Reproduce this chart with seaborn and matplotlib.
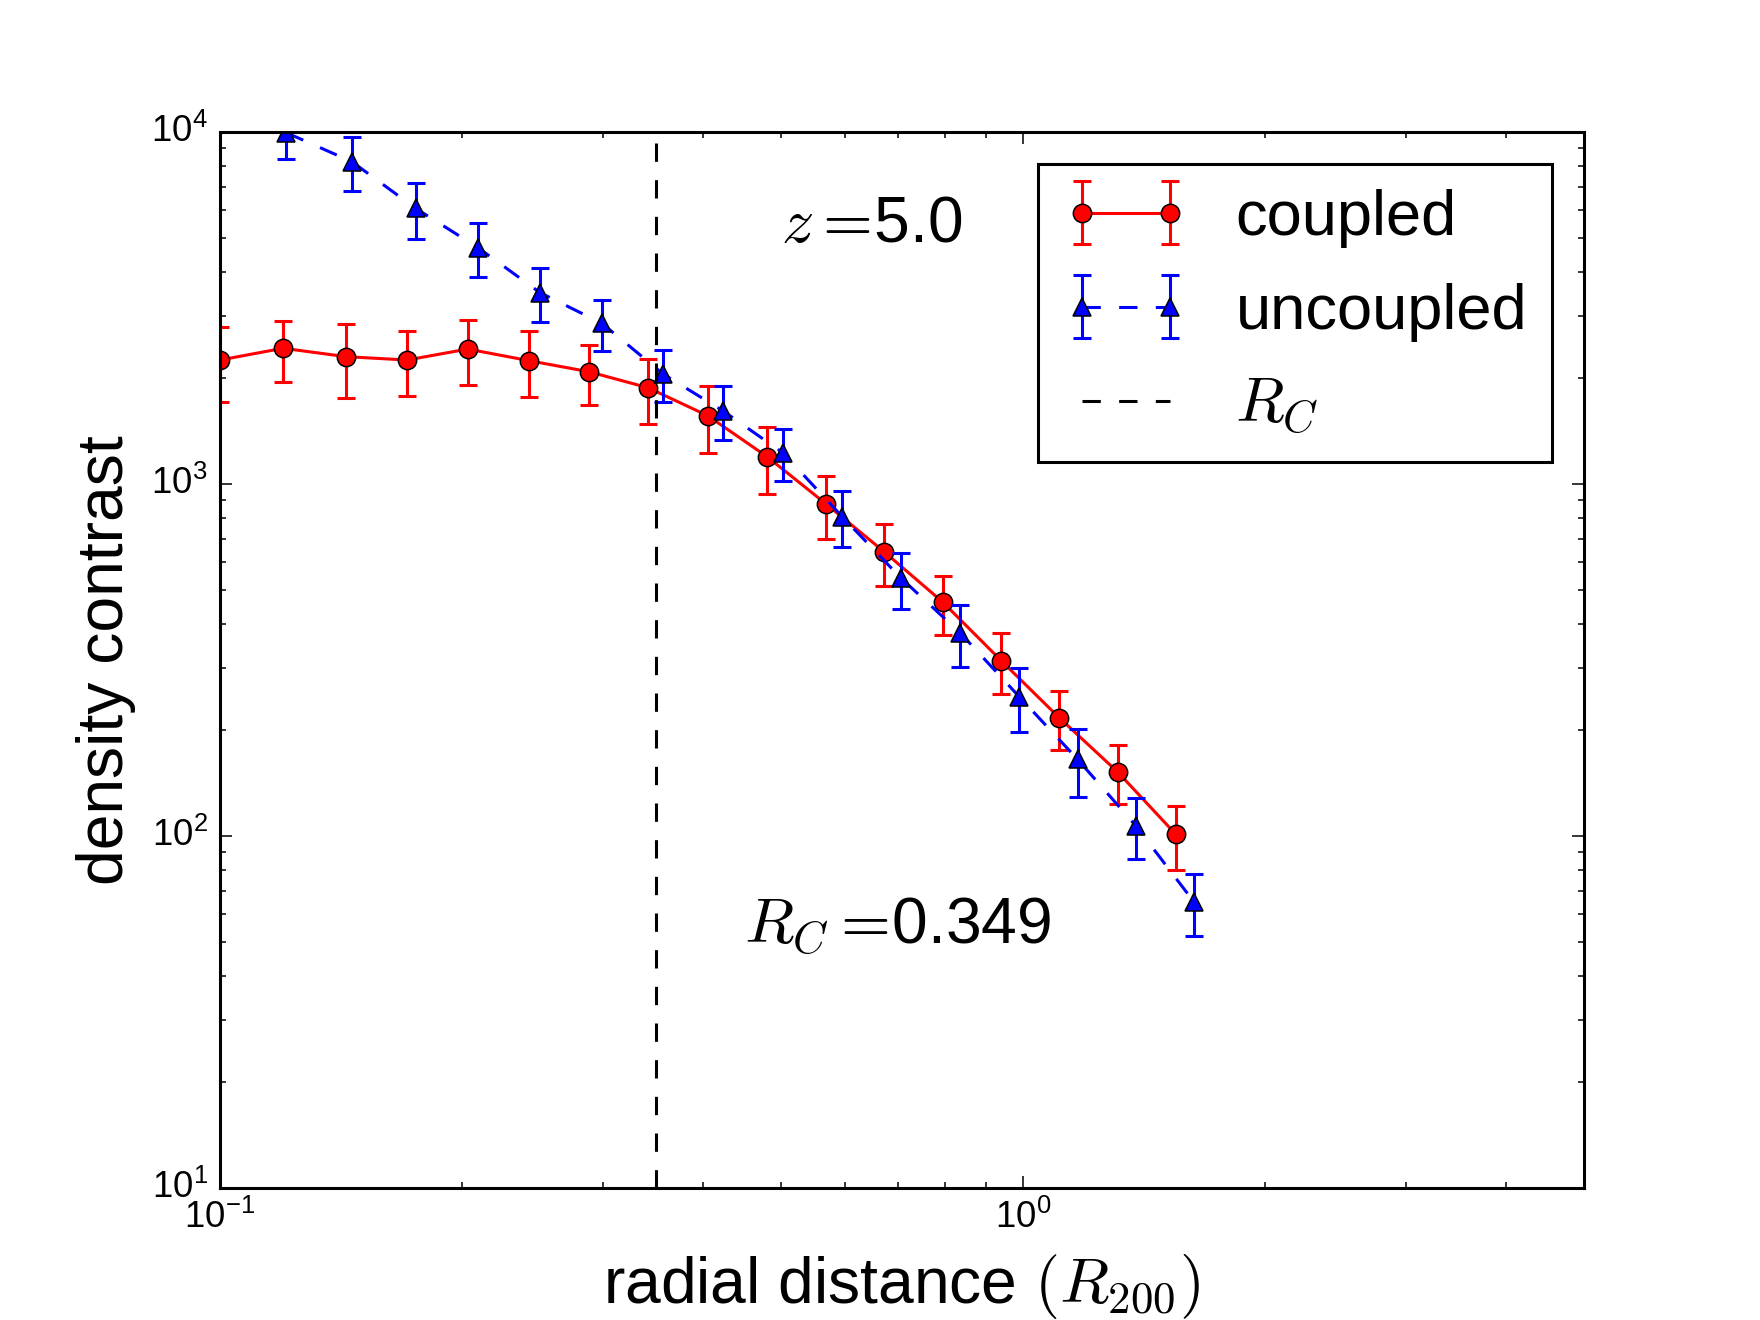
import matplotlib
matplotlib.use("Agg")
import matplotlib.pyplot as plt
import seaborn as sns
import numpy as np
import pandas as pd
from matplotlib.legend_handler import HandlerTuple

# ---- data ----
r_coupled = [0.100, 0.1198, 0.1436, 0.1710, 0.2035, 0.2427, 0.2882, 0.3413, 0.4051,
             0.4801, 0.5686, 0.6718, 0.7954, 0.9396, 1.1094, 1.3127, 1.5514]
rho_coupled = [2250, 2430, 2300, 2250, 2418, 2240, 2084, 1877, 1563,
               1196, 878, 642, 461, 315, 217, 152, 101]
err_coupled = [540, 480, 550, 475, 505, 475, 405, 395, 335,
               260, 178, 130, 88, 62, 41, 29, 21]

r_uncoupled = [0.1210, 0.1460, 0.1752, 0.2096, 0.2504, 0.2990, 0.3563, 0.4233,
               0.5028, 0.5955, 0.7052, 0.8352, 0.9892, 1.1704, 1.3823, 1.6334]
rho_uncoupled = [9950, 8233, 6071, 4692, 3496, 2861, 2054, 1613,
                 1225, 808, 540, 378, 249, 165, 107, 65]
err_uncoupled = [1570, 1420, 1090, 820, 605, 470, 347, 282,
                 207, 146, 98, 76, 52, 36, 21, 13]

R_C = 0.349
redshift_label = r"$z=\!$5.0"
rc_label = r"$R_C=\!$0.349"
series_labels = ["coupled", "uncoupled", r"$R_C$"]

df_c = pd.DataFrame({"r": r_coupled, "rho": rho_coupled, "err": err_coupled})
df_u = pd.DataFrame({"r": r_uncoupled, "rho": rho_uncoupled, "err": err_uncoupled})

# ---- style ----
plt.style.use("classic")
plt.rcParams["font.family"] = ["Liberation Sans", "DejaVu Sans"]
plt.rcParams["mathtext.fontset"] = "cm"
plt.rcParams["xtick.labelsize"] = 12
plt.rcParams["ytick.labelsize"] = 12

fig = plt.figure(figsize=(8, 6), dpi=220, facecolor="white")
ax = fig.add_axes([0.125, 0.1, 0.775, 0.8])
ax.set_xscale("log")
ax.set_yscale("log")

# coupled
eb_c = ax.errorbar(df_c["r"], df_c["rho"], yerr=df_c["err"], fmt="none",
                   ecolor="r", elinewidth=1.0, capsize=3, capthick=1.0)
sns.lineplot(data=df_c, x="r", y="rho", ax=ax, color="r", marker="o",
             markersize=6, markeredgecolor="k", markeredgewidth=0.5,
             linewidth=1.0, linestyle="-", legend=False, estimator=None)
line_c = ax.get_lines()[-1]

# uncoupled
eb_u = ax.errorbar(df_u["r"], df_u["rho"], yerr=df_u["err"], fmt="none",
                   ecolor="b", elinewidth=1.0, capsize=3, capthick=1.0)
sns.lineplot(data=df_u, x="r", y="rho", ax=ax, color="b", marker="^",
             markersize=6, markeredgecolor="k", markeredgewidth=0.5,
             linewidth=1.0, linestyle="--", legend=False, estimator=None)
line_u = ax.get_lines()[-1]

vl = ax.axvline(R_C, color="k", linestyle="--", linewidth=1.0)

ax.set_xlim(0.1, 5)
ax.set_ylim(10, 1e4)
ax.set_xlabel(r"radial distance $(R_{200})$", fontsize=21, labelpad=5)
ax.set_ylabel("density contrast", fontsize=21)

ax.text(0.411, 0.896, redshift_label, transform=ax.transAxes, fontsize=21,
        ha="left", va="baseline")
ax.text(0.384, 0.231, rc_label, transform=ax.transAxes, fontsize=21,
        ha="left", va="baseline")

leg = ax.legend([(eb_c, line_c), (eb_u, line_u), vl], series_labels,
                handler_map={tuple: HandlerTuple(ndivide=1)},
                loc="upper right", fontsize=20.7, numpoints=2,
                handlelength=1.98, handletextpad=0.74, labelspacing=0.55,
                fancybox=False, frameon=True)
leg.get_frame().set_edgecolor("k")
leg.get_frame().set_linewidth(1.0)

fig.savefig("out.png", dpi=220, facecolor="white")
